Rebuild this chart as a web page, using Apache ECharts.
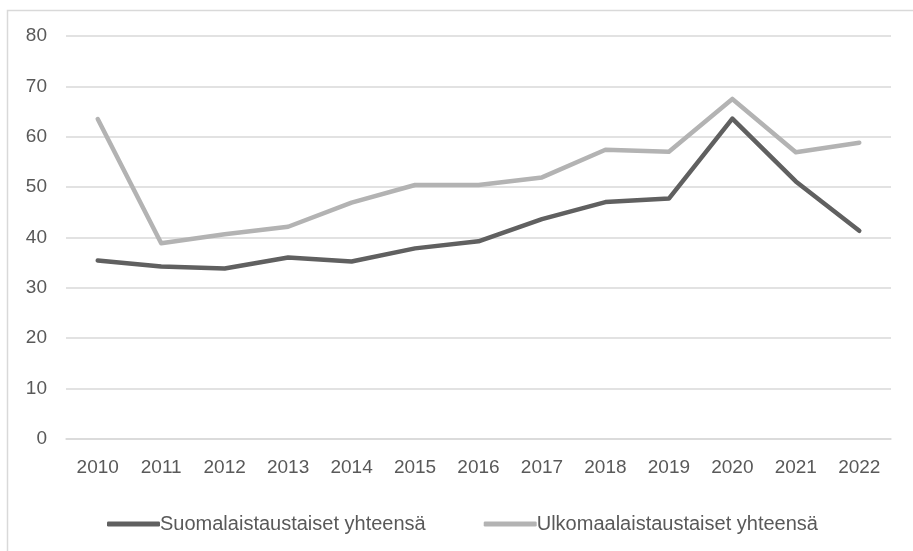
<!DOCTYPE html>
<html>
<head>
<meta charset="utf-8">
<script src="https://cdn.jsdelivr.net/npm/echarts@6/dist/echarts.min.js"></script>
<style>
  html, body { margin: 0; padding: 0; background: #ffffff; }
  #chart { width: 913px; height: 551px; }
</style>
</head>
<body>
<div id="chart"></div>
<script>
// Vuodet ja sarjojen arvot
const years = ['2010','2011','2012','2013','2014','2015','2016','2017','2018','2019','2020','2021','2022'];
const suomalaistaustaiset = [35.4, 34.2, 33.8, 36.0, 35.2, 37.8, 39.2, 43.6, 47.0, 47.7, 63.6, 51.1, 41.3];
const ulkomaalaistaustaiset = [63.5, 38.8, 40.6, 42.1, 46.9, 50.4, 50.4, 51.9, 57.4, 57.0, 67.5, 56.9, 58.8];
const seriesNames = ['Suomalaistaustaiset yhteensä', 'Ulkomaalaistaustaiset yhteensä'];

const FONT = "'Liberation Sans', Arial, sans-serif";
const TEXT = '#595959';
const GRID = '#d9d9d9';

const chart = echarts.init(document.getElementById('chart'), null, { renderer: 'canvas' });
chart.setOption({
  animation: false,
  backgroundColor: '#ffffff',
  textStyle: { fontFamily: FONT },
  graphic: [{
    type: 'rect',
    left: 5, top: 8,
    shape: { width: 1000, height: 1000 },
    style: { fill: 'none', stroke: '#d9d9d9', lineWidth: 1.5 },
    silent: true
  }],
  grid: { left: 66, right: 22, top: 36, bottom: 112.4, containLabel: false },
  legend: {
    top: 509,
    left: 102,
    itemWidth: 53,
    itemHeight: 5,
    itemGap: 58,
    icon: 'roundRect',
    textStyle: { color: TEXT, fontSize: 20, fontFamily: FONT, padding: [0, 0, 0, -5] },
    data: seriesNames
  },
  xAxis: {
    type: 'category',
    data: years,
    boundaryGap: true,
    axisLine: { show: true, lineStyle: { color: GRID, width: 1.5 } },
    axisTick: { show: false },
    axisLabel: { color: TEXT, fontSize: 19, margin: 20, fontFamily: FONT }
  },
  yAxis: {
    type: 'value',
    min: 0, max: 80, interval: 10,
    axisLine: { show: false },
    axisTick: { show: false },
    axisLabel: { color: TEXT, fontSize: 19, margin: 19, fontFamily: FONT },
    splitLine: { lineStyle: { color: GRID, width: 1.5 } }
  },
  series: [
    {
      name: seriesNames[0],
      type: 'line',
      data: suomalaistaustaiset,
      symbol: 'none',
      lineStyle: { color: '#606060', width: 4.5, cap: 'round', join: 'round' },
      itemStyle: { color: '#606060' }
    },
    {
      name: seriesNames[1],
      type: 'line',
      data: ulkomaalaistaustaiset,
      symbol: 'none',
      lineStyle: { color: '#b3b3b3', width: 4.5, cap: 'round', join: 'round' },
      itemStyle: { color: '#b3b3b3' }
    }
  ]
});
</script>
</body>
</html>
